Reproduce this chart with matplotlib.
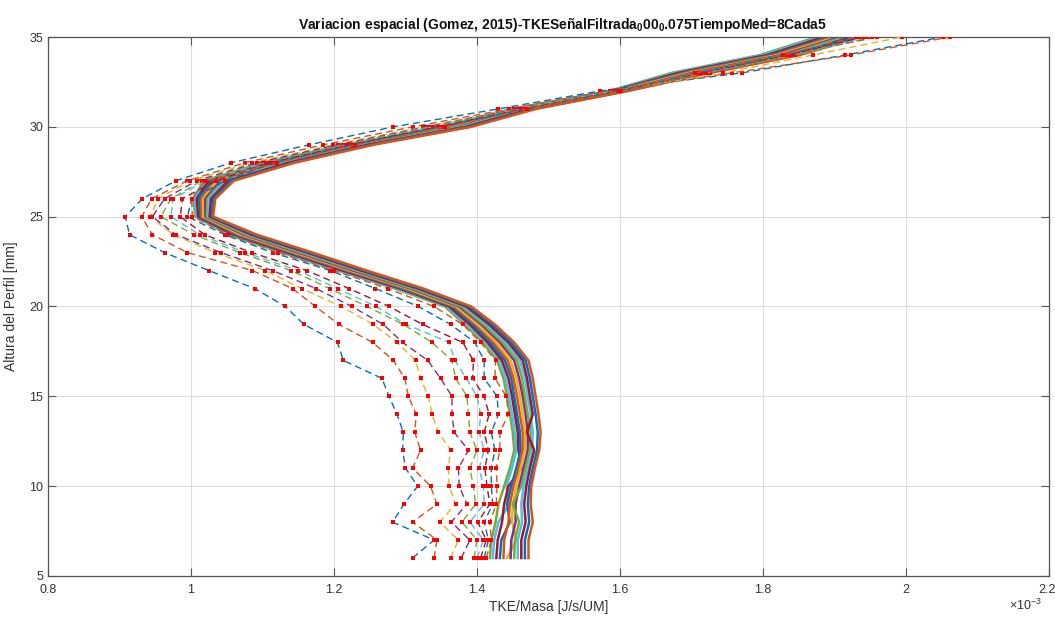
import matplotlib
matplotlib.use("Agg")
import matplotlib.pyplot as plt
import matplotlib.transforms as mtransforms
from matplotlib.ticker import FuncFormatter

plt.rcParams["font.family"] = ["Liberation Sans", "DejaVu Sans"]
plt.rcParams["mathtext.default"] = "regular"

# profile heights [mm]
altura = list(range(6, 36))

# early profiles (dashed, red markers), TKE/Masa in units of 1e-3
perfiles_ini = [
    [1.310, 1.340, 1.282, 1.298, 1.317, 1.300, 1.296, 1.297, 1.288, 1.277, 1.267, 1.213, 1.205, 1.158, 1.132,
     1.089, 1.025, 0.963, 0.914, 0.908, 0.932, 0.979, 1.056, 1.165, 1.283, 1.430, 1.572, 1.770, 1.915, 2.052],
    [1.340, 1.344, 1.310, 1.344, 1.335, 1.310, 1.321, 1.313, 1.315, 1.304, 1.299, 1.283, 1.254, 1.207, 1.174,
     1.142, 1.086, 0.995, 0.946, 0.931, 0.945, 0.995, 1.075, 1.185, 1.310, 1.445, 1.586, 1.756, 1.923, 2.062],
    [1.363, 1.374, 1.348, 1.370, 1.361, 1.360, 1.363, 1.346, 1.337, 1.332, 1.321, 1.314, 1.288, 1.255, 1.210,
     1.155, 1.104, 1.034, 0.975, 0.943, 0.954, 0.999, 1.085, 1.199, 1.325, 1.452, 1.590, 1.744, 1.870, 1.994],
    [1.378, 1.390, 1.364, 1.386, 1.375, 1.374, 1.388, 1.368, 1.365, 1.365, 1.349, 1.331, 1.296, 1.269, 1.225,
     1.175, 1.114, 1.042, 0.979, 0.946, 0.963, 1.008, 1.092, 1.205, 1.330, 1.456, 1.592, 1.726, 1.838, 1.959],
    [1.396, 1.400, 1.379, 1.398, 1.395, 1.390, 1.400, 1.390, 1.388, 1.386, 1.370, 1.365, 1.337, 1.297, 1.246,
     1.194, 1.140, 1.068, 1.004, 0.958, 0.972, 1.015, 1.101, 1.213, 1.334, 1.460, 1.594, 1.720, 1.845, 1.952],
    [1.400, 1.409, 1.390, 1.410, 1.409, 1.403, 1.410, 1.403, 1.405, 1.400, 1.385, 1.369, 1.361, 1.301, 1.259,
     1.205, 1.150, 1.076, 1.012, 0.972, 0.975, 1.021, 1.105, 1.218, 1.339, 1.462, 1.596, 1.715, 1.840, 1.945],
    [1.405, 1.413, 1.401, 1.418, 1.414, 1.411, 1.416, 1.410, 1.417, 1.410, 1.394, 1.395, 1.380, 1.324, 1.277,
     1.221, 1.162, 1.085, 1.019, 0.985, 0.988, 1.035, 1.110, 1.222, 1.345, 1.465, 1.598, 1.712, 1.835, 1.940],
    [1.410, 1.416, 1.410, 1.422, 1.420, 1.420, 1.425, 1.420, 1.430, 1.428, 1.410, 1.410, 1.397, 1.363, 1.318,
     1.258, 1.195, 1.114, 1.047, 0.995, 1.001, 1.048, 1.115, 1.226, 1.350, 1.468, 1.600, 1.708, 1.830, 1.935],
    [1.413, 1.420, 1.418, 1.427, 1.428, 1.427, 1.432, 1.432, 1.444, 1.441, 1.425, 1.426, 1.405, 1.380, 1.340,
     1.275, 1.200, 1.122, 1.052, 1.002, 1.001, 1.020, 1.120, 1.230, 1.355, 1.470, 1.602, 1.705, 1.828, 1.930],
]

# later profiles (converged bundle)
perfiles_fin = [
    [1.418, 1.420, 1.426, 1.430, 1.438, 1.446, 1.452, 1.450, 1.446, 1.442, 1.437, 1.428, 1.408, 1.383, 1.355,
     1.285, 1.205, 1.127, 1.052, 1.006, 1.003, 1.018, 1.100, 1.215, 1.350, 1.448, 1.585, 1.672, 1.796, 1.875],
    [1.422, 1.424, 1.430, 1.445, 1.441, 1.449, 1.455, 1.453, 1.449, 1.445, 1.440, 1.432, 1.412, 1.386, 1.358,
     1.288, 1.208, 1.130, 1.055, 1.008, 1.005, 1.021, 1.104, 1.218, 1.353, 1.451, 1.587, 1.676, 1.800, 1.880],
    [1.427, 1.429, 1.435, 1.438, 1.444, 1.462, 1.458, 1.457, 1.453, 1.449, 1.444, 1.435, 1.415, 1.390, 1.361,
     1.292, 1.212, 1.134, 1.059, 1.010, 1.008, 1.025, 1.108, 1.222, 1.357, 1.454, 1.590, 1.681, 1.806, 1.885],
    [1.432, 1.434, 1.446, 1.442, 1.448, 1.455, 1.461, 1.460, 1.456, 1.452, 1.448, 1.439, 1.419, 1.394, 1.365,
     1.295, 1.216, 1.138, 1.062, 1.013, 1.011, 1.029, 1.112, 1.225, 1.361, 1.457, 1.592, 1.686, 1.811, 1.891],
    [1.437, 1.438, 1.444, 1.446, 1.451, 1.458, 1.464, 1.464, 1.460, 1.456, 1.451, 1.443, 1.423, 1.398, 1.368,
     1.299, 1.219, 1.142, 1.066, 1.015, 1.014, 1.033, 1.116, 1.229, 1.365, 1.460, 1.594, 1.691, 1.816, 1.896],
    [1.442, 1.455, 1.449, 1.450, 1.455, 1.461, 1.467, 1.467, 1.464, 1.460, 1.455, 1.447, 1.427, 1.401, 1.371,
     1.303, 1.223, 1.146, 1.070, 1.017, 1.017, 1.036, 1.120, 1.233, 1.368, 1.463, 1.597, 1.696, 1.821, 1.902],
    [1.447, 1.448, 1.454, 1.454, 1.459, 1.465, 1.471, 1.471, 1.468, 1.464, 1.459, 1.452, 1.432, 1.406, 1.375,
     1.307, 1.227, 1.150, 1.074, 1.020, 1.020, 1.041, 1.124, 1.237, 1.373, 1.467, 1.600, 1.701, 1.826, 1.908],
    [1.452, 1.453, 1.459, 1.450, 1.462, 1.468, 1.474, 1.475, 1.471, 1.467, 1.463, 1.456, 1.436, 1.409, 1.378,
     1.310, 1.231, 1.154, 1.077, 1.022, 1.023, 1.044, 1.128, 1.240, 1.376, 1.470, 1.602, 1.706, 1.831, 1.913],
    [1.457, 1.457, 1.463, 1.462, 1.465, 1.471, 1.477, 1.478, 1.475, 1.471, 1.467, 1.460, 1.440, 1.413, 1.382,
     1.314, 1.235, 1.158, 1.081, 1.024, 1.025, 1.048, 1.132, 1.244, 1.380, 1.473, 1.604, 1.711, 1.836, 1.919],
    [1.462, 1.462, 1.468, 1.466, 1.469, 1.474, 1.480, 1.470, 1.478, 1.474, 1.470, 1.464, 1.444, 1.417, 1.385,
     1.317, 1.238, 1.162, 1.084, 1.026, 1.028, 1.052, 1.136, 1.247, 1.384, 1.476, 1.607, 1.716, 1.841, 1.924],
    [1.467, 1.467, 1.473, 1.471, 1.473, 1.478, 1.484, 1.485, 1.482, 1.478, 1.474, 1.468, 1.448, 1.421, 1.389,
     1.321, 1.242, 1.166, 1.088, 1.029, 1.031, 1.056, 1.141, 1.251, 1.388, 1.480, 1.610, 1.721, 1.847, 1.930],
    [1.472, 1.472, 1.478, 1.475, 1.476, 1.481, 1.487, 1.489, 1.486, 1.482, 1.478, 1.472, 1.452, 1.425, 1.392,
     1.325, 1.246, 1.170, 1.092, 1.031, 1.034, 1.060, 1.145, 1.255, 1.392, 1.483, 1.612, 1.726, 1.852, 1.936],
]

x_ticks = [0.8, 1.0, 1.2, 1.4, 1.6, 1.8, 2.0, 2.2]
y_ticks = [5, 10, 15, 20, 25, 30, 35]

# default MATLAB line color order
colores = ["#0072BD", "#D95319", "#EDB120", "#7E2F8E", "#77AC30", "#4DBEEE", "#A2142F"]

fig = plt.figure(figsize=(10.55, 6.17), dpi=100)
ax = fig.add_axes([0.0455, 0.0665, 0.9488, 0.8735])

for i, perfil in enumerate(perfiles_ini):
    ax.plot(perfil, altura, linestyle=(0, (5, 3)), lw=1.0, color=colores[i % 7],
            marker="s", ms=2.6, mew=0, mfc="red", zorder=3)

n0 = len(perfiles_ini)
for j, perfil in enumerate(perfiles_fin):
    ax.plot(perfil, altura, "-", lw=1.8, color=colores[(n0 + j + 2) % 7], zorder=2)

ax.set_xlim(0.8, 2.2)
ax.set_ylim(5, 35)
ax.set_xticks(x_ticks)
ax.set_yticks(y_ticks)
ax.xaxis.set_major_formatter(FuncFormatter(lambda v, p: f"{v:g}"))
ax.grid(True, color="#dcdcdc", lw=0.8, zorder=0)
ax.set_axisbelow(True)

for s in ax.spines.values():
    s.set_color("#555555")
    s.set_linewidth(0.9)
ax.tick_params(direction="in", length=5.5, width=0.8, color="#555555",
               labelcolor="#333333", labelsize=9, top=True, right=True)
ax.tick_params(axis="x", pad=6)

# keep the last x tick label inside the figure
ultimo = ax.get_xticklabels()[-1]
ultimo.set_horizontalalignment("right")
ultimo.set_transform(ultimo.get_transform() + mtransforms.ScaledTranslation(5 / 72, 0, fig.dpi_scale_trans))

ax.set_xlabel("TKE/Masa [J/s/UM]", fontsize=10, color="#333333", labelpad=3)
ax.set_ylabel("Altura del Perfil [mm]", fontsize=10, color="#333333", labelpad=8)
ax.set_title("Variacion espacial (Gomez, 2015)-TKESeñalFiltrada$_0$00$_0$.075TiempoMed=8Cada5",
             fontsize=10, fontweight="bold", color="#111111", pad=6, x=0.514)

# exponent of the x axis
fig.text(0.988, 0.006, r"$\times$10$^{-3}$", ha="right", va="bottom", fontsize=9, color="#333333")

fig.savefig("out.png", dpi=100)
